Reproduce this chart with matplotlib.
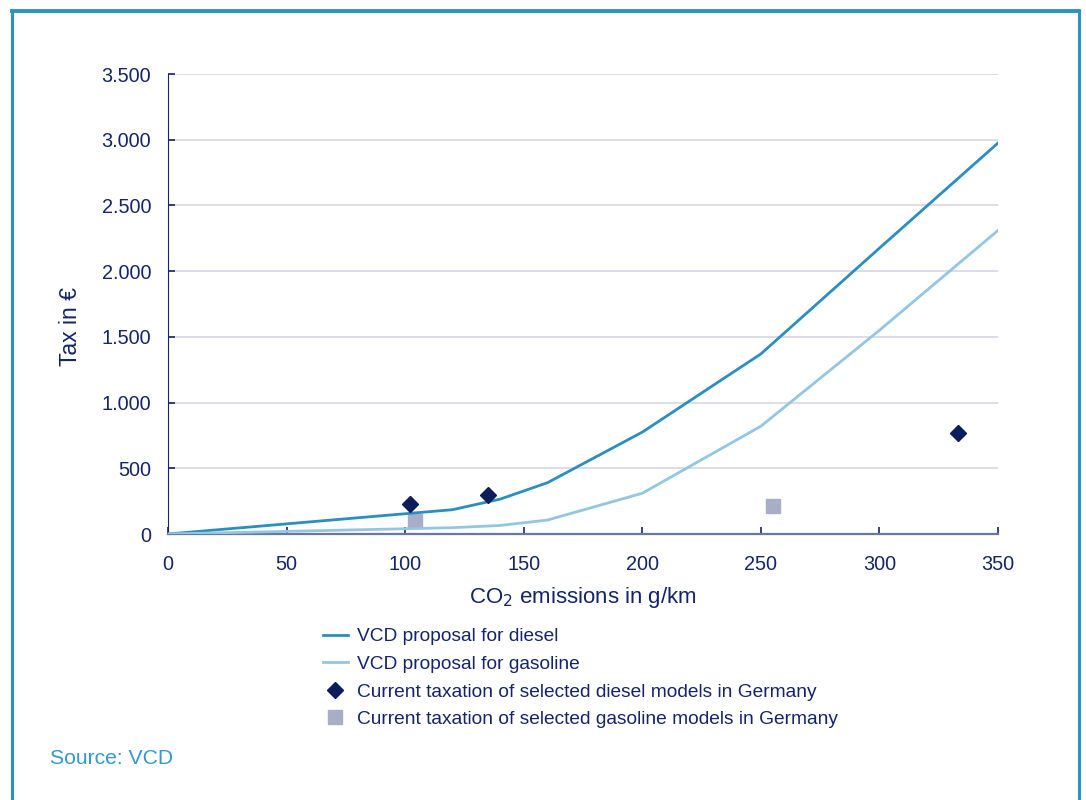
import matplotlib
matplotlib.use("Agg")
import matplotlib.pyplot as plt
from matplotlib.lines import Line2D
from matplotlib.ticker import FuncFormatter

plt.rcParams['font.family'] = ['Liberation Sans', 'DejaVu Sans']

# VCD proposal curves (CO2 g/km -> tax in EUR)
diesel_co2 = [0, 120, 140, 160, 200, 250, 300, 350]
diesel_tax = [0, 185, 265, 390, 775, 1370, 2175, 2975]
gasoline_co2 = [0, 100, 120, 140, 160, 200, 250, 300, 350]
gasoline_tax = [0, 40, 48, 65, 106, 310, 820, 1550, 2310]

# Current taxation of selected models in Germany
diesel_models_co2 = [102, 135, 333]
diesel_models_tax = [230, 300, 770]
gasoline_models_co2 = [104, 255]
gasoline_models_tax = [100, 210]

x_ticks = [0, 50, 100, 150, 200, 250, 300, 350]
y_ticks = [0, 500, 1000, 1500, 2000, 2500, 3000, 3500]

NAVY = '#14246a'
DIESEL = '#2a8fc0'
GASOLINE = '#93c6e0'
DIAMOND = '#0b1d5a'
SQUARE = '#a9aec8'
FRAME = '#2a93c4'

fig = plt.figure(figsize=(10.86, 8.0), dpi=100)
ax = fig.add_axes([168/1086, 1-534/800, (998-168)/1086, (534-74)/800])

ax.plot(diesel_co2, diesel_tax, color=DIESEL, lw=2.0, zorder=3,
        label='VCD proposal for diesel')
ax.plot(gasoline_co2, gasoline_tax, color=GASOLINE, lw=2.0, zorder=3,
        label='VCD proposal for gasoline')
ax.plot(diesel_models_co2, diesel_models_tax, ls='none', marker='D', ms=8,
        color=DIAMOND, zorder=4,
        label='Current taxation of selected diesel models in Germany')
ax.plot(gasoline_models_co2, gasoline_models_tax, ls='none', marker='s', ms=9.5,
        color=SQUARE, zorder=2,
        label='Current taxation of selected gasoline models in Germany')

ax.set_xlim(0, 350)
ax.set_ylim(0, 3500)
ax.set_xticks(x_ticks)
ax.set_yticks(y_ticks)
ax.yaxis.set_major_formatter(FuncFormatter(lambda v, p: f'{int(v):,}'.replace(',', '.')))
ax.grid(axis='y', color='#d6d6e6', lw=1.2, zorder=0)
ax.set_axisbelow(True)
for s in ('top', 'right'):
    ax.spines[s].set_visible(False)
ax.spines['left'].set_color(NAVY)
ax.spines['bottom'].set_color('#6a76a6')
ax.spines['bottom'].set_linewidth(1.6)
ax.tick_params(direction='in', length=5, width=1.2, colors=NAVY,
               labelsize=14.3, labelcolor=NAVY)
ax.tick_params(axis='y', pad=12)
ax.tick_params(axis='x', pad=15)

ax.set_xlabel('CO$_2$ emissions in g/km', fontsize=16, color=NAVY, labelpad=8)
ax.set_ylabel('Tax in €', fontsize=16.5, color=NAVY)
ax.yaxis.set_label_coords((82-168)/830, (534-327)/460)

handles, labels = ax.get_legend_handles_labels()
fig.legend(handles, labels, loc='upper left',
           bbox_to_anchor=(323/1086, 1-628/800), frameon=False,
           fontsize=13.8, labelcolor=NAVY, handlelength=1.3, handletextpad=0.45,
           labelspacing=0.53, borderaxespad=0, borderpad=0)

fig.text(50/1086, 1-758/800, 'Source: VCD', fontsize=15.2, color='#3399cc',
         va='center', ha='left')

# outer frame: top, left and right edges
fig.add_artist(Line2D([12/1086, 12/1086], [0, 1-11/800], transform=fig.transFigure,
                      color=FRAME, lw=2.2))
fig.add_artist(Line2D([1079/1086, 1079/1086], [0, 1-11/800], transform=fig.transFigure,
                      color=FRAME, lw=2.2))
fig.add_artist(Line2D([12/1086, 1079/1086], [1-11/800, 1-11/800], transform=fig.transFigure,
                      color=FRAME, lw=2.8))

fig.savefig('out.png', dpi=100)
